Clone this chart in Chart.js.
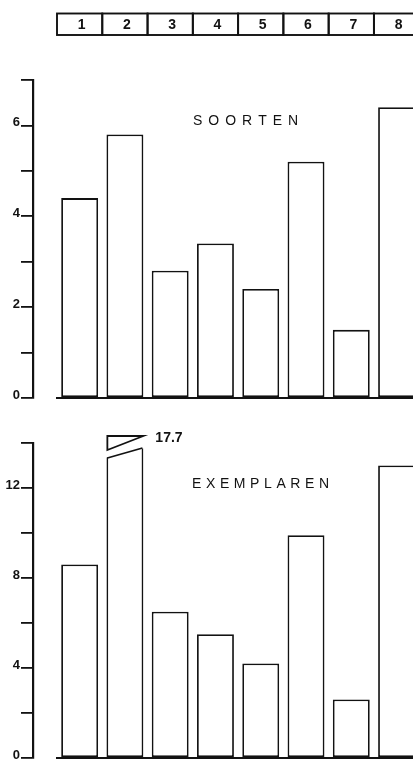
<!DOCTYPE html>
<html><head><meta charset="utf-8">
<script src="https://cdn.jsdelivr.net/npm/chart.js@4/dist/chart.umd.min.js"></script>
<style>
html,body{margin:0;padding:0;background:#fff;overflow:hidden;width:413px;height:760px;position:relative;}
canvas{position:absolute;left:0;}
#c1{top:0;} #c2{top:410px;}
</style></head><body>
<canvas id="c1" width="430" height="410"></canvas>
<canvas id="c2" width="430" height="360"></canvas>
<script>
const categories = ['1', '2', '3', '4', '5', '6', '7', '8'];
const soortenValues = [4.4, 5.8, 2.8, 3.4, 2.4, 5.2, 1.5, 6.4];
const exemplarenValues = [8.6, 17.7, 6.5, 5.5, 4.2, 9.9, 2.6, 13.0];
const soortenTickLabels = [0, 2, 4, 6];
const exemplarenTickLabels = [0, 4, 8, 12];
const soortenTitle = 'SOORTEN';
const exemplarenTitle = 'EXEMPLAREN';
const brokenIndex = 1;

const INK = '#121212';
const FONT = '"Liberation Sans", Arial, Helvetica, sans-serif';

function spacedText(ctx, text, x, y, spacing) {
  let cx = x;
  for (const ch of text) {
    ctx.fillText(ch, cx, y);
    cx += ctx.measureText(ch).width + spacing;
  }
}

function titlePlugin(text, x, y, spacing) {
  return {
    id: 'title_' + text,
    afterDraw(chart) {
      const ctx = chart.ctx;
      ctx.save();
      ctx.fillStyle = INK;
      ctx.font = '14px ' + FONT;
      ctx.textAlign = 'left';
      ctx.textBaseline = 'alphabetic';
      spacedText(ctx, text, x, y, spacing);
      ctx.restore();
    }
  };
}

const stripPlugin = {
  id: 'strip',
  afterDraw(chart) {
    const {ctx, scales: {x}} = chart;
    const w = (x.right - x.left) / categories.length;
    ctx.save();
    ctx.strokeStyle = INK;
    ctx.lineWidth = 1.9;
    ctx.fillStyle = INK;
    ctx.font = 'bold 14px ' + FONT;
    ctx.textAlign = 'center';
    ctx.textBaseline = 'middle';
    categories.forEach((c, i) => {
      const cx = x.getPixelForValue(i);
      ctx.strokeRect(cx - w / 2, 13.5, w, 21.5);
      ctx.fillText(c, cx + 2, 25);
    });
    ctx.restore();
  }
};

const breakPlugin = {
  id: 'brk',
  afterDatasetsDraw(chart) {
    const {ctx, scales: {y}} = chart;
    const bar = chart.getDatasetMeta(0).data[brokenIndex];
    const L = bar.x - bar.width / 2, R = bar.x + bar.width / 2;
    const T = y.getPixelForValue(y.max);
    ctx.save();
    ctx.fillStyle = '#fff';
    ctx.beginPath();
    ctx.moveTo(L - 2, 0); ctx.lineTo(R + 2, 0); ctx.lineTo(R + 2, T + 5); ctx.lineTo(L - 2, T + 15);
    ctx.closePath(); ctx.fill();
    ctx.strokeStyle = INK; ctx.lineWidth = 1.8;
    ctx.beginPath(); ctx.moveTo(L + 0.9, T + 15); ctx.lineTo(R - 0.9, T + 5); ctx.stroke();
    ctx.beginPath(); ctx.moveTo(L + 0.9, T - 7); ctx.lineTo(R, T - 7); ctx.lineTo(L + 0.9, T + 7);
    ctx.closePath(); ctx.stroke();
    ctx.fillStyle = INK;
    ctx.font = 'bold 14px ' + FONT;
    ctx.textAlign = 'left'; ctx.textBaseline = 'middle';
    ctx.fillText(exemplarenValues[brokenIndex].toFixed(1), R + 12, T - 5);
    ctx.restore();
  }
};

function makeConfig(values, yMax, step, labeled, padTop, padBottom, plugins) {
  return {
    type: 'bar',
    data: {
      labels: categories,
      datasets: [{
        data: values, yAxisID: 'y', xAxisID: 'x',
        backgroundColor: '#fff', borderColor: INK, borderWidth: 1.8,
        borderSkipped: false, barPercentage: 0.815, categoryPercentage: 1, clip: 0
      }]
    },
    options: {
      responsive: false, animation: false, events: [],
      layout: {padding: {top: padTop, bottom: padBottom, left: 0, right: 10.8}},
      plugins: {legend: {display: false}, tooltip: {enabled: false}, title: {display: false}},
      scales: {
        x: {
          display: true, grid: {display: false}, ticks: {display: false},
          border: {display: true, color: INK, width: 2},
          afterFit: s => { s.height = 0; }
        },
        y: {
          position: 'left', weight: 1, min: 0, max: yMax,
          ticks: {
            stepSize: step, autoSkip: false, color: INK, padding: 1, labelOffset: -3,
            font: {family: FONT, size: 13, weight: 'bold'},
            callback: v => labeled.includes(v) ? String(v) : ''
          },
          grid: {drawOnChartArea: false, drawTicks: true, tickLength: 12, color: INK, lineWidth: 1.8},
          border: {display: true, color: INK, width: 2.2},
          afterFit: s => { s.width = 33; }
        },
        yGap: {
          type: 'linear', position: 'left', weight: 0, display: true,
          grid: {display: false}, ticks: {display: false}, border: {display: false},
          afterFit: s => { s.width = 24; }
        }
      }
    },
    plugins: plugins
  };
}

new Chart(document.getElementById('c1'),
  makeConfig(soortenValues, 7, 1, soortenTickLabels, 80, 12,
    [stripPlugin, titlePlugin(soortenTitle, 193, 125, 6)]));
new Chart(document.getElementById('c2'),
  makeConfig(exemplarenValues, 14, 2, exemplarenTickLabels, 33, 12,
    [breakPlugin, titlePlugin(exemplarenTitle, 192, 78, 4.6)]));
</script>
</body></html>
